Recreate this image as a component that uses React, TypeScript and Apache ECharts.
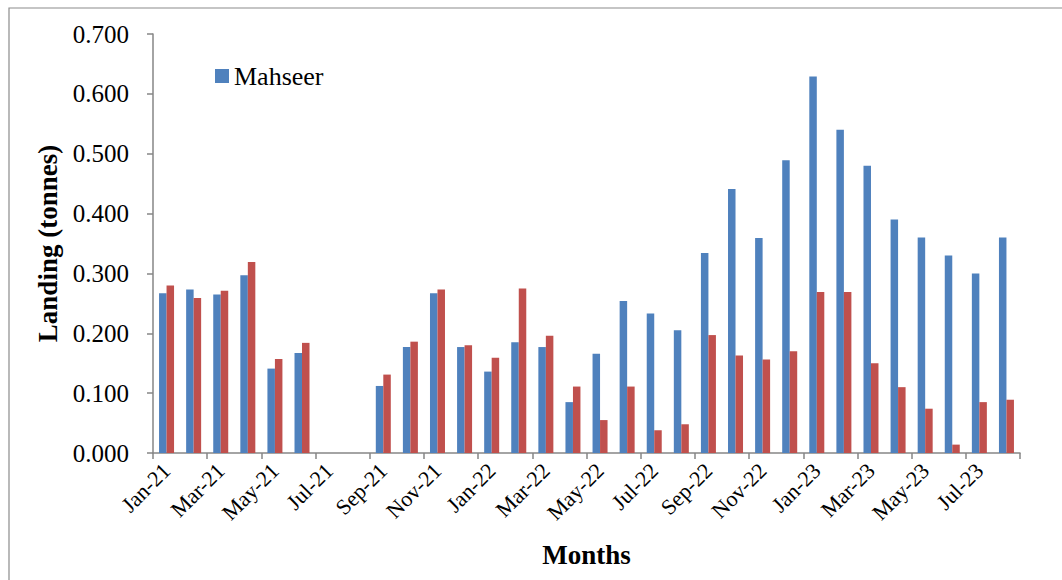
import React, { useEffect, useRef } from "react";
import * as echarts from "echarts";

const months = [
  "Jan-21","Feb-21","Mar-21","Apr-21","May-21","Jun-21","Jul-21","Aug-21","Sep-21","Oct-21","Nov-21","Dec-21",
  "Jan-22","Feb-22","Mar-22","Apr-22","May-22","Jun-22","Jul-22","Aug-22","Sep-22","Oct-22","Nov-22","Dec-22",
  "Jan-23","Feb-23","Mar-23","Apr-23","May-23","Jun-23","Jul-23","Aug-23",
];

const mahseer = [
  0.267, 0.273, 0.265, 0.297, 0.141, 0.167, 0, 0, 0.112, 0.177, 0.267, 0.177,
  0.136, 0.185, 0.177, 0.085, 0.166, 0.254, 0.233, 0.205, 0.334, 0.441, 0.359, 0.489,
  0.629, 0.540, 0.480, 0.390, 0.360, 0.330, 0.300, 0.360,
];

const series2 = [
  0.280, 0.259, 0.271, 0.319, 0.157, 0.184, 0, 0, 0.131, 0.186, 0.273, 0.180,
  0.159, 0.275, 0.196, 0.111, 0.055, 0.111, 0.038, 0.048, 0.197, 0.163, 0.156, 0.170,
  0.269, 0.269, 0.150, 0.110, 0.074, 0.014, 0.085, 0.089,
];

const FONT = "'Liberation Serif', 'Times New Roman', serif";

export default function App() {
  const ref = useRef<HTMLDivElement>(null);
  useEffect(() => {
    if (!ref.current) return;
    const chart = echarts.init(ref.current, undefined, { renderer: "svg" });
    chart.setOption({
      animation: false,
      backgroundColor: "#ffffff",
      textStyle: { fontFamily: FONT, color: "#000" },
      graphic: [
        {
          type: "rect",
          shape: { x: 9, y: 8, width: 1070, height: 590 },
          style: { fill: "none", stroke: "#8c8c8c", lineWidth: 1.2 },
          silent: true,
        },
      ],
      legend: {
        data: ["Mahseer"],
        left: 210,
        top: 58,
        icon: "rect",
        itemWidth: 14,
        itemHeight: 14,
        itemGap: 6,
        textStyle: { fontFamily: FONT, fontSize: 26, color: "#000" },
      },
      grid: { left: 153, right: 42, top: 34, bottom: 127, containLabel: false },
      xAxis: {
        type: "category",
        data: months,
        name: "Months",
        nameLocation: "middle",
        nameGap: 88,
        nameTextStyle: { fontFamily: FONT, fontSize: 27, fontWeight: "bold", color: "#000" },
        axisLine: { lineStyle: { color: "#868686", width: 1.5 } },
        axisTick: { show: true, interval: 1, length: 6, lineStyle: { color: "#868686", width: 1.5 } },
        axisLabel: {
          interval: 1,
          rotate: 45,
          margin: 14,
          fontFamily: FONT,
          fontSize: 22,
          color: "#000",
        },
      },
      yAxis: {
        type: "value",
        min: 0,
        max: 0.7,
        interval: 0.1,
        name: "Landing (tonnes)",
        nameLocation: "middle",
        nameGap: 88,
        nameRotate: 90,
        nameTextStyle: { fontFamily: FONT, fontSize: 27, fontWeight: "bold", color: "#000" },
        splitLine: { show: false },
        axisLine: { show: true, lineStyle: { color: "#868686", width: 1.5 } },
        axisTick: { show: true, length: 6, lineStyle: { color: "#868686", width: 1.5 } },
        axisLabel: {
          margin: 24,
          fontFamily: FONT,
          fontSize: 25,
          color: "#000",
          formatter: (v: number) => v.toFixed(3),
        },
      },
      series: [
        {
          name: "Mahseer",
          type: "bar",
          data: mahseer,
          barWidth: 7.5,
          barGap: "0%",
          itemStyle: { color: "#4F81BD" },
        },
        {
          name: "Series 2",
          type: "bar",
          data: series2,
          barWidth: 7.5,
          barGap: "0%",
          itemStyle: { color: "#C0504D" },
        },
      ],
    });
    return () => chart.dispose();
  }, []);
  return (
    <div
      ref={ref}
      style={{ position: "fixed", left: 0, top: 0, width: 1062, height: 580 }}
    />
  );
}
